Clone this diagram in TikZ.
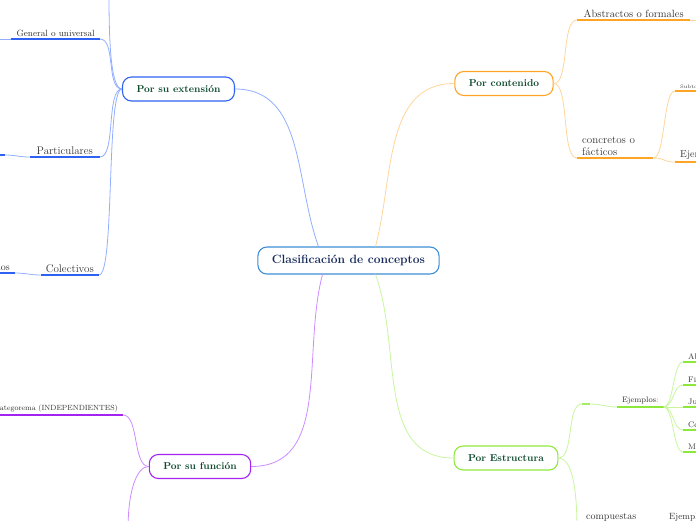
\documentclass[tikz,border=0pt]{standalone}
\usepackage{tikz}
\usepackage{xcolor}
\usetikzlibrary{positioning}

\definecolor{rootline}{HTML}{3E8ED6}
\definecolor{roottext}{HTML}{15295A}
\definecolor{titlegreen}{HTML}{0C4A2C}
\definecolor{leafgray}{HTML}{333333}
\definecolor{extblue}{HTML}{2F62F2}
\definecolor{extlight}{HTML}{92AEFF}
\definecolor{contorange}{HTML}{FFA424}
\definecolor{contlight}{HTML}{FFD59A}
\definecolor{funpurple}{HTML}{A323F0}
\definecolor{funlight}{HTML}{CC8BFF}
\definecolor{estgreen}{HTML}{8EE83C}
\definecolor{estlight}{HTML}{C8F59E}

\tikzset{
    topic/.style={draw, fill=white, rounded corners=9pt, line width=1.1pt,
        minimum height=24pt, inner xsep=14pt, text=titlegreen,
        font=\fontsize{10}{12}\selectfont\bfseries},
    leaf/.style={inner xsep=5pt, inner ysep=2.5pt, text=leafgray},
    con/.style={line width=0.8pt},
    under/.style={line width=2pt}
}

\begin{document}
\begin{tikzpicture}[x=1pt,y=1pt]
    \clip (0,0) rectangle (696,-520);

    \node[topic, draw=rootline, text=roottext, minimum height=27pt,
        font=\fontsize{12}{14}\selectfont\bfseries] (root) at (348.5,-260.5) {Clasificación de conceptos};

    \node[topic, draw=extblue] (ext) at (178.5,-89) {Por su extensión};
    \node[topic, draw=contorange] (cont) at (504,-83.5) {Por contenido};
    \node[topic, draw=funpurple] (fun) at (200,-466.5) {Por su función};
    \node[topic, draw=estgreen] (est) at (506,-458) {Por Estructura};

    \draw[con, extlight] ([xshift=-30pt]root.north) to[out=110,in=0] (ext.east);
    \draw[con, contlight] ([xshift=27pt]root.north) to[out=75,in=180] (cont.west);
    \draw[con, funlight] ([xshift=-26pt]root.south) to[out=-105,in=0] (fun.east);
    \draw[con, estlight] ([xshift=27pt]root.south) to[out=-70,in=180] (est.west);

    % por su extension
    \node[leaf, anchor=south east, minimum width=86pt, font=\fontsize{9}{11}\selectfont] (gen) at (100,-39) {General o universal};
    \node[leaf, anchor=south east, minimum width=70pt, font=\fontsize{11}{13}\selectfont] (par) at (100,-157) {Particulares};
    \node[leaf, anchor=south east, minimum width=58pt, font=\fontsize{11}{13}\selectfont] (col) at (99,-275) {Colectivos};
    \node[leaf, anchor=south east, font=\fontsize{10}{12}\selectfont] (ulos) at (15,-273) {ulos};
    \coordinate (extup) at (109,6);
    \coordinate (genend) at (-5,-39);
    \coordinate (parend) at (5,-155);
    \coordinate (parcut) at (-5,-155);

    \draw[con, extlight] (ext.west) .. controls +(-12,0) and +(0,-40) .. (extup);
    \draw[con, extlight] (ext.west) .. controls +(-16,0) and +(16,0) .. (gen.south east);
    \draw[con, extlight] (ext.west) .. controls +(-16,0) and +(16,0) .. (par.south east);
    \draw[con, extlight] (ext.west) .. controls +(-16,0) and +(16,0) .. (col.south east);
    \draw[under, extblue] (gen.south west) -- (gen.south east);
    \draw[under, extblue] (par.south west) -- (par.south east);
    \draw[under, extblue] (col.south west) -- (col.south east);
    \draw[con, extlight] (gen.south west) -- (genend);
    \draw[con, extlight] (par.south west) to[out=180,in=0] (parend);
    \draw[under, extblue] (parend) -- (parcut);
    \draw[con, extlight] (col.south west) to[out=180,in=0] (ulos.south east);
    \draw[under, extblue] (ulos.south east) -- ++(-20,0);

    % por contenido
    \node[leaf, anchor=south west, minimum width=113pt, font=\fontsize{10.5}{12}\selectfont] (abs) at (577,-20) {Abstractos o formales};
    \node[leaf, anchor=south west, text width=66pt, align=left, font=\fontsize{11}{11.5}\selectfont] (conc) at (577,-158) {concretos o\\fácticos};
    \node[leaf, anchor=south west, font=\fontsize{5}{6}\selectfont] (sub) at (675,-91) {Subto};
    \node[leaf, anchor=south west, font=\fontsize{10}{12}\selectfont] (ejm) at (675,-162) {Ejem};

    \draw[con, contlight] (cont.east) .. controls +(16,0) and +(-16,0) .. (abs.south west);
    \draw[con, contlight] (cont.east) .. controls +(16,0) and +(-16,0) .. (conc.south west);
    \draw[con, contlight] (conc.south east) .. controls +(12,0) and +(-12,0) .. (sub.south west);
    \draw[con, contlight] (conc.south east) .. controls +(12,0) and +(-12,0) .. (ejm.south west);
    \draw[under, contorange] (abs.south west) -- (abs.south east);
    \draw[con, contlight] (abs.south east) -- ++(10,0);
    \draw[under, contorange] (conc.south west) -- (conc.south east);
    \draw[under, contorange] (sub.south west) -- ++(25,0);
    \draw[under, contorange] (ejm.south west) -- ++(25,0);

    % por estructura
    \coordinate (estA) at (582,-404);
    \coordinate (estB) at (590,-404);
    \coordinate (estdown) at (577,-530);
    \node[leaf, anchor=south west, minimum width=46pt, font=\fontsize{8}{10}\selectfont] (ejs) at (617,-407) {Ejemplos:};
    \node[leaf, anchor=south west, font=\fontsize{8}{10}\selectfont] (ab) at (683,-362) {Ab};
    \node[leaf, anchor=south west, font=\fontsize{8}{10}\selectfont] (fis) at (683,-385) {Fis};
    \node[leaf, anchor=south west, font=\fontsize{8}{10}\selectfont] (ju) at (683,-407) {Ju};
    \node[leaf, anchor=south west, font=\fontsize{8}{10}\selectfont] (co) at (683,-430) {Co};
    \node[leaf, anchor=south west, font=\fontsize{8}{10}\selectfont] (mi) at (683,-452) {Mi};
    \node[leaf, anchor=base west, inner xsep=0pt, font=\fontsize{10}{12}\selectfont] (comp) at (586,-519) {compuestas};
    \node[leaf, anchor=base west, inner xsep=0pt, font=\fontsize{9}{11}\selectfont] (ejc) at (669,-519) {Ejemplo};

    \draw[con, estlight] (est.east) .. controls +(16,0) and +(-16,0) .. (estA);
    \draw[under, estgreen!80] (estA) -- (estB);
    \draw[con, estlight] (estB) to[out=0,in=180] (ejs.south west);
    \draw[under, estgreen] (ejs.south west) -- (ejs.south east);
    \draw[con, estlight] (est.east) .. controls +(14,0) and +(0,40) .. (estdown);
    \foreach \leafname in {ab,fis,ju,co,mi} {
        \draw[con, estlight] (ejs.south east) .. controls +(10,0) and +(-10,0) .. (\leafname.south west);
        \draw[under, estgreen] (\leafname.south west) -- ++(20,0);
    }

    % por su funcion
    \node[leaf, anchor=south east, font=\fontsize{7.5}{9}\selectfont] (cat) at (123,-415) {Categorema (INDEPENDIENTES)};
    \coordinate (fundown) at (128,-530);
    \draw[con, funlight] (fun.west) .. controls +(-16,0) and +(16,0) .. (cat.south east);
    \draw[con, funlight] (fun.west) .. controls +(-12,0) and +(0,40) .. (fundown);
    \draw[under, funpurple] (cat.south west) -- (cat.south east);
\end{tikzpicture}
\end{document}
